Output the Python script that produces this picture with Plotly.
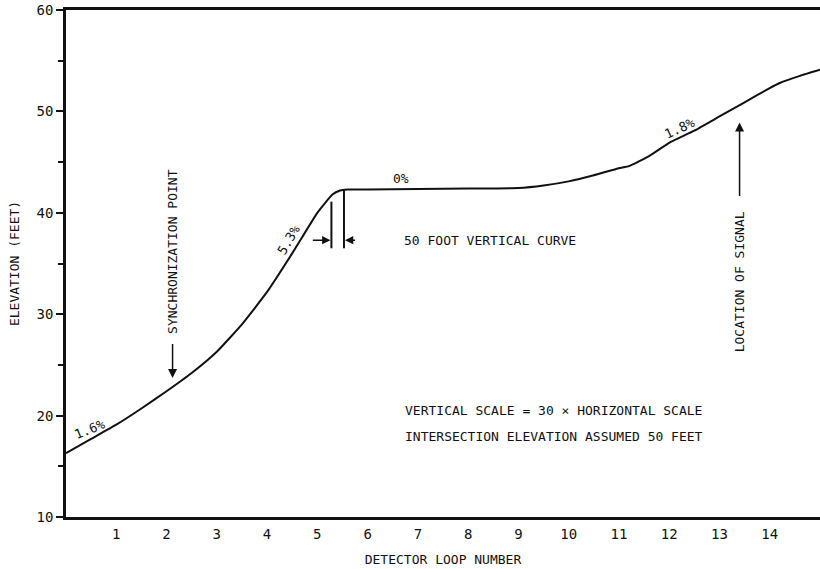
import plotly.graph_objects as go

# Profile of the road (detector loop number vs elevation in feet)
loop_pos = [0, 0.5, 1, 1.5, 2, 2.5, 3, 3.5, 4, 4.5, 5, 5.3, 5.45, 5.6, 6, 7, 8, 9, 9.5, 10, 10.5, 11, 11.2, 11.6, 12, 12.5, 13, 13.5, 14, 14.2, 14.6, 15]
elevation = [16.3, 17.7, 19.1, 20.7, 22.4, 24.2, 26.3, 29.0, 32.2, 36.0, 40.0, 41.8, 42.2, 42.3, 42.3, 42.35, 42.4, 42.45, 42.7, 43.1, 43.7, 44.4, 44.6, 45.6, 46.9, 48.1, 49.5, 50.9, 52.3, 52.8, 53.5, 54.1]

x_ticks = list(range(1, 15))
y_ticks = [10, 20, 30, 40, 50, 60]

grade_labels = ["1.6%", "5.3%", "0%", "1.8%"]
grade_x = [0.46, 4.42, 6.67, 12.2]
grade_y = [18.6, 37.3, 43.4, 48.3]
grade_angle = [-22, -60, 0, -25]

FONT = "DejaVu Sans Mono"
INK = "#111111"

fig = go.Figure()
fig.add_trace(go.Scatter(
    x=loop_pos, y=elevation, mode="lines",
    line=dict(color=INK, width=2, shape="spline", smoothing=0.4),
    showlegend=False, hoverinfo="skip"))

annotations = []
for t, gx, gy, ga in zip(grade_labels, grade_x, grade_y, grade_angle):
    annotations.append(dict(x=gx, y=gy, text=t, showarrow=False, textangle=ga,
                            font=dict(family=FONT, size=13, color=INK)))

annotations += [
    dict(x=8.43, y=37.3, text="50 FOOT VERTICAL CURVE", showarrow=False,
         font=dict(family=FONT, size=13, color=INK)),
    dict(x=6.70, y=20.55, text="VERTICAL SCALE = 30 × HORIZONTAL SCALE", showarrow=False,
         xanchor="left", font=dict(family=FONT, size=13, color=INK)),
    dict(x=6.70, y=17.9, text="INTERSECTION ELEVATION ASSUMED 50 FEET", showarrow=False,
         xanchor="left", font=dict(family=FONT, size=13, color=INK)),
    dict(x=2.12, y=36.2, text="SYNCHRONIZATION POINT", showarrow=False, textangle=-90,
         font=dict(family=FONT, size=13, color=INK)),
    dict(x=13.4, y=33.2, text="LOCATION OF SIGNAL", showarrow=False, textangle=-90,
         font=dict(family=FONT, size=13, color=INK)),
    # arrows
    dict(x=2.12, y=23.7, ax=2.12, ay=27.2, axref="x", ayref="y", xref="x", yref="y",
         text="", showarrow=True, arrowhead=2, arrowsize=1.2, arrowwidth=1.5, arrowcolor=INK),
    dict(x=13.4, y=48.9, ax=13.4, ay=41.5, axref="x", ayref="y", xref="x", yref="y",
         text="", showarrow=True, arrowhead=2, arrowsize=1.2, arrowwidth=1.5, arrowcolor=INK),
    dict(x=5.26, y=37.3, ax=4.88, ay=37.3, axref="x", ayref="y", xref="x", yref="y",
         text="", showarrow=True, arrowhead=2, arrowsize=1.1, arrowwidth=1.5, arrowcolor=INK),
    dict(x=5.55, y=37.3, ax=5.78, ay=37.3, axref="x", ayref="y", xref="x", yref="y",
         text="", showarrow=True, arrowhead=2, arrowsize=1.1, arrowwidth=1.5, arrowcolor=INK),
]

shapes = [
    dict(type="line", x0=5.28, x1=5.28, y0=36.5, y1=41.1, xref="x", yref="y",
         line=dict(color=INK, width=2)),
    dict(type="line", x0=5.53, x1=5.53, y0=36.5, y1=42.2, xref="x", yref="y",
         line=dict(color=INK, width=2)),
]

fig.update_layout(
    width=820, height=569,
    margin=dict(l=66, r=0, t=10, b=52, autoexpand=False),
    paper_bgcolor="white", plot_bgcolor="white",
    font=dict(family=FONT, size=13, color=INK),
    annotations=annotations, shapes=shapes,
    xaxis=dict(range=[0, 15], tickvals=x_ticks, ticktext=[str(v) for v in x_ticks],
               showgrid=False, zeroline=False, showline=True, linecolor=INK, linewidth=2.5,
               mirror=True, ticks="", ticklabelstandoff=2, automargin=False,
               tickfont=dict(family=FONT, size=14, color=INK),
               title=dict(text="DETECTOR LOOP NUMBER", font=dict(family=FONT, size=13, color=INK))),
    yaxis=dict(range=[10, 60], tickvals=y_ticks, showgrid=False, zeroline=False,
               showline=True, linecolor=INK, linewidth=2.5, automargin=False,
               ticks="outside", ticklen=7, tickwidth=1.5, tickcolor=INK,
               minor=dict(dtick=5, tick0=10, ticks="outside", ticklen=5, tickwidth=1.5, tickcolor=INK),
               tickfont=dict(family=FONT, size=14, color=INK),
               title=dict(text="ELEVATION (FEET)", font=dict(family=FONT, size=13, color=INK))),
)

fig.write_html("out.html", config={"displayModeBar": False},
               post_script="document.body.style.margin='0';document.body.style.overflow='hidden';")
